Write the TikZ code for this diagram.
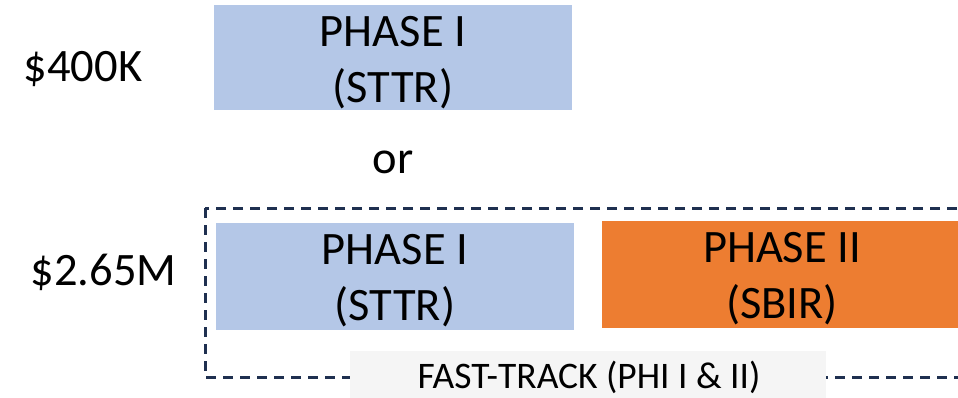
\documentclass[tikz,border=0pt]{standalone}
\usepackage{fontspec}
\setmainfont{Carlito}
\definecolor{lblue}{HTML}{B4C7E7}
\definecolor{orng}{HTML}{ED7D31}
\definecolor{lgray}{HTML}{F5F5F5}
\definecolor{navy}{HTML}{1F3050}
\tikzset{
  phbox/.style={rectangle, draw=none, inner sep=0pt},
  bigtxt/.style={inner sep=0pt, anchor=base, font=\fontsize{46.5}{56}\selectfont},
  smalltxt/.style={inner sep=0pt, anchor=base, font=\fontsize{37.5}{44}\selectfont},
  dashframe/.style={draw=navy, line width=3pt, dash pattern=on 10pt off 7pt}
}
\begin{document}
\begin{tikzpicture}[x=1pt,y=-1pt]
\useasboundingbox (0,0) rectangle (958,397);
% top phase I
\node[phbox, fill=lblue, minimum width=358pt, minimum height=105pt] (top) at (393,57.5) {};
\node[bigtxt] (topa) at (393,46) {PHASE I};
\node[bigtxt] (topb) at (393,102) {(STTR)};
\node[bigtxt] (k400) at (83,81) {\$400K};
\node[bigtxt] (or) at (393,173) {or};
% dashed frame
\coordinate (fa) at (205,208);
\coordinate (fb) at (990,377);
\draw[dashframe] (fa) rectangle (fb);
% bottom boxes
\node[phbox, fill=lblue, minimum width=358pt, minimum height=107pt] (p1) at (395,276.5) {};
\node[bigtxt] (p1a) at (395,264) {PHASE I};
\node[bigtxt] (p1b) at (395,320) {(STTR)};
\node[phbox, fill=orng, minimum width=360pt, minimum height=107pt] (p2) at (782,274.5) {};
\node[bigtxt] (p2a) at (782,262) {PHASE II};
\node[bigtxt] (p2b) at (782,318) {(SBIR)};
\node[bigtxt] (m265) at (103.5,285) {\$2.65M};
% fast track label
\node[phbox, fill=lgray, minimum width=476pt, minimum height=50pt] (ft) at (588,376) {};
\node[smalltxt] (fta) at (589,388) {FAST-TRACK (PHI I \& II)};
\end{tikzpicture}
\end{document}
